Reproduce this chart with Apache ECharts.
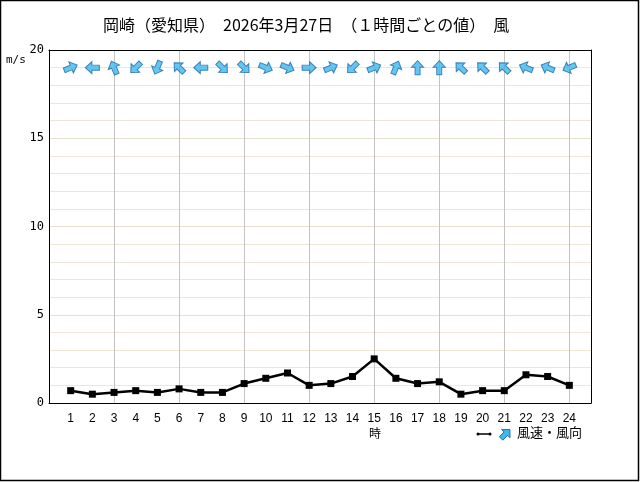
<!DOCTYPE html>
<html><head><meta charset="utf-8">
<script src="https://cdn.jsdelivr.net/npm/echarts@6/dist/echarts.min.js"></script>
<style>html,body{margin:0;padding:0;background:#fff}#c{width:640px;height:482px}</style>
</head><body><div id="c"></div>
<script>
// Data
const hours = [1,2,3,4,5,6,7,8,9,10,11,12,13,14,15,16,17,18,19,20,21,22,23,24];
const windSpeed = [0.7,0.5,0.6,0.7,0.6,0.8,0.6,0.6,1.1,1.4,1.7,1.0,1.1,1.5,2.5,1.4,1.1,1.2,0.5,0.7,0.7,1.6,1.5,1.0];
const windFrom = ['西南西','東','南南東','北東','北北東','南東','東','北西','北西','西北西','西北西','西','西南西','北東','西南西','南南西','南','南','南東','南東','南東','東南東','東南東','東北東'];
const yTicks = [0,5,10,15,20];
const titleText = '岡崎（愛知県）　2026年3月27日　（１時間ごとの値）　風';

const compass = ['北','北北東','北東','東北東','東','東南東','南東','南南東','南','南南西','南西','西南西','西','西北西','北西','北北西'];
const ARROW_Y = 19;
const arrowPts = [[6.5,0],[13,6.5],[9.2,6.5],[9.2,14],[3.8,14],[3.8,6.5],[0,6.5]];
const arrowPath = 'path://M' + arrowPts.map(p=>p.join(',')).join(' L') + ' Z';

const chart = echarts.init(document.getElementById('c'), null, {renderer:'canvas'});
const arrowData = hours.map((h,i)=>{
  const from = compass.indexOf(windFrom[i])*22.5;
  const heading = (from+180)%360;
  return {value:[h, ARROW_Y], symbolRotate: -heading};
});
const blackLine = {show:true,onZero:false,lineStyle:{color:'#000',width:1}};

chart.setOption({
  animation:false,
  backgroundColor:'#fff',
  title:{text:titleText,left:98,top:12,textStyle:{fontFamily:'Noto Sans CJK JP',fontSize:16,fontWeight:'normal',color:'#000'}},
  grid:{left:49,top:50,right:49,bottom:79},
  xAxis:[{
    type:'value',min:0,max:25,interval:1,position:'bottom',
    axisLine:blackLine,axisTick:{show:false},splitLine:{show:false},
    axisLabel:{margin:10,color:'#000',fontFamily:'Liberation Sans',fontSize:12,
      formatter:v=> (hours.indexOf(v)>=0 ? String(v) : '')}
  },{
    type:'value',min:0,max:25,interval:3,position:'top',
    axisLine:blackLine,axisTick:{show:false},axisLabel:{show:false},
    splitLine:{show:true,lineStyle:{color:'#c4c4c4',width:1}}
  }],
  yAxis:[{
    type:'value',min:0,max:20,interval:5,position:'left',
    axisLine:blackLine,axisTick:{show:false},
    axisLabel:{margin:5,color:'#000',fontFamily:'DejaVu Sans Mono',fontSize:12,
      formatter:v=> (yTicks.indexOf(v)>=0 ? String(v):'')},
    splitLine:{show:true,lineStyle:{color:'#e6e1cf',width:1}},
    minorTick:{show:false,splitNumber:5},
    minorSplitLine:{show:true,lineStyle:{color:'#ece7d6',width:1}}
  },{
    type:'value',min:0,max:20,interval:5,position:'right',
    axisLine:blackLine,axisTick:{show:false},axisLabel:{show:false},splitLine:{show:false}
  }],
  series:[{
    type:'line',xAxisIndex:0,yAxisIndex:0,data:hours.map((h,i)=>[h,windSpeed[i]]),
    symbol:'rect',symbolSize:7,color:'#000',
    lineStyle:{color:'#000',width:2.5},itemStyle:{color:'#000'},z:3
  },{
    type:'scatter',xAxisIndex:0,yAxisIndex:0,data:arrowData,symbol:arrowPath,symbolSize:[13,14],symbolKeepAspect:true,
    itemStyle:{color:'#3fb8ee',borderColor:'#1d6aa8',borderWidth:1},z:4
  }],
  graphic:[
    {type:'rect',shape:{x:0.5,y:0.5,width:638,height:480},style:{fill:null,stroke:'#000',lineWidth:1.5},silent:true},
    {type:'text',x:6,y:55,style:{text:'m/s',fontFamily:'DejaVu Sans Mono',fontSize:11,fill:'#000'}},
    {type:'text',x:369,y:427,style:{text:'時',fontFamily:'Noto Sans CJK JP',fontSize:12,fill:'#000'}},
    {type:'line',shape:{x1:478,y1:434,x2:490,y2:434},style:{stroke:'#000',lineWidth:1.5}},
    {type:'circle',shape:{cx:478,cy:434,r:1.5},style:{fill:'#000'}},
    {type:'circle',shape:{cx:490,cy:434,r:1.5},style:{fill:'#000'}},
    {type:'polygon',shape:{points:arrowPts},
      x:499,y:427,originX:6.5,originY:7,scaleX:0.9,scaleY:0.9,rotation:-Math.PI/4,
      style:{fill:'#3fb8ee',stroke:'#1d6aa8',lineWidth:1}},
    {type:'text',x:517,y:426,style:{text:'風速・風向',fontFamily:'Noto Sans CJK JP',fontSize:13,fill:'#000'}}
  ]
});
</script></body></html>
